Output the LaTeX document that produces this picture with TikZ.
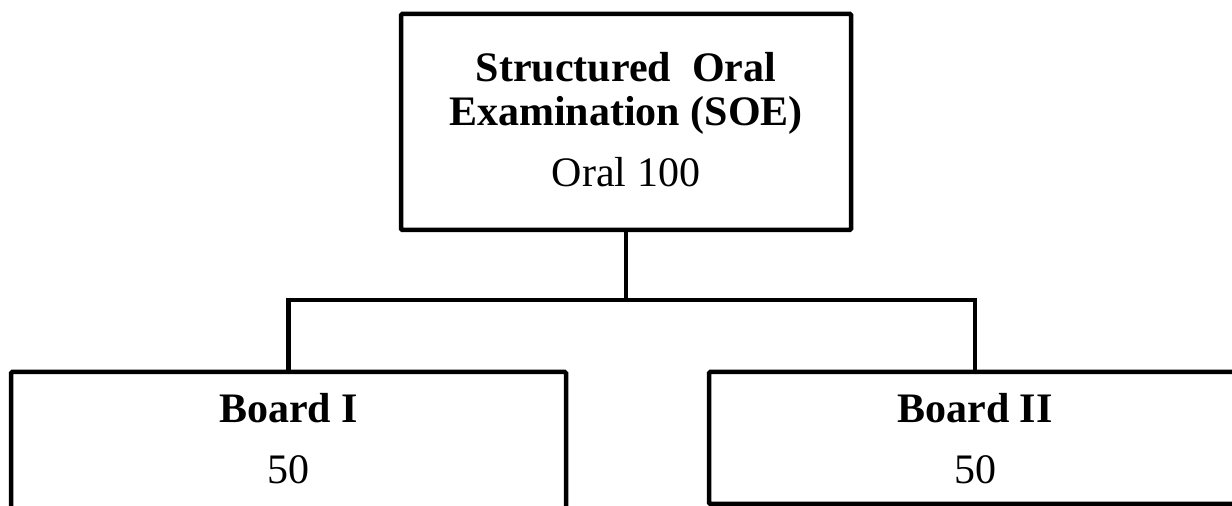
\documentclass[tikz,border=0pt]{standalone}
\usepackage{fontspec}
\setmainfont{Liberation Serif}
\begin{document}
\begin{tikzpicture}[x=0.5pt,y=-0.5pt,
  box/.style={draw, line width=2.25pt, rectangle, inner sep=0pt, rounded corners=0.6pt},
  wire/.style={line width=2.25pt, line join=miter},
  title/.style={font=\fontsize{21}{22}\selectfont\bfseries, anchor=base, inner sep=0pt},
  plain/.style={font=\fontsize{21}{22}\selectfont, anchor=base, inner sep=0pt}]
\useasboundingbox (0,0) rectangle (1232,506);
\clip (0,0) rectangle (1232,506);
% boxes
\node[box, minimum width=225pt, minimum height=108pt] (soe) at (626,122) {};
\node[box, minimum width=277.5pt, minimum height=79pt] (b1) at (288.5,451) {};
\node[box, minimum width=266pt, minimum height=66pt] (b2) at (975,438) {};
% texts
\node[title] (t1) at (626,82) {Structured~~Oral};
\node[title] (t2) at (626,126) {Examination (SOE)};
\node[plain] (t3) at (626,187) {Oral 100};
\node[title] (b1a) at (288.5,423) {Board I};
\node[plain] (b1b) at (288.5,484) {50};
\node[title] (b2a) at (975,423) {Board II};
\node[plain] (b2b) at (975,484) {50};
% connectors
\coordinate (j) at (626,300);
\draw[wire] (soe.south) -- (j);
\draw[wire] (b1.north) |- (j) -| (b2.north);
\end{tikzpicture}
\end{document}
